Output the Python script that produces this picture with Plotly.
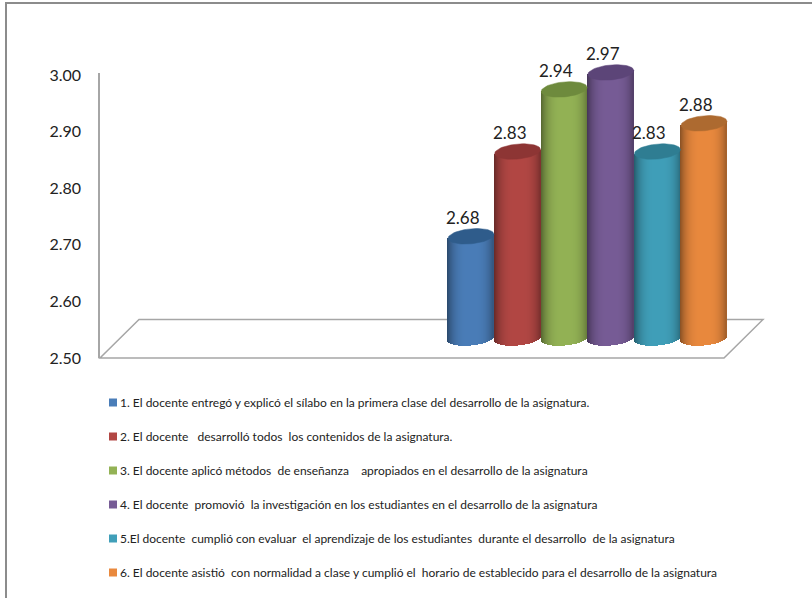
import math
import plotly.graph_objects as go

W, H = 812, 598

# ---- data ----
series_names = [
    "1. El docente entregó y explicó el sílabo en la primera clase del desarrollo de la asignatura.",
    "2. El docente   desarrolló todos  los contenidos de la asignatura.",
    "3. El docente aplicó métodos  de enseñanza    apropiados en el desarrollo de la asignatura",
    "4. El docente  promovió  la investigación en los estudiantes en el desarrollo de la asignatura",
    "5.El docente  cumplió con evaluar  el aprendizaje de los estudiantes  durante el desarrollo  de la asignatura",
    "6. El docente asistió  con normalidad a clase y cumplió el  horario de establecido para el desarrollo de la asignatura",
]
series_values = [2.68, 2.83, 2.94, 2.97, 2.83, 2.88]
y_ticks = [2.5, 2.6, 2.7, 2.8, 2.9, 3.0]
y_tick_labels = ["2.50", "2.60", "2.70", "2.80", "2.90", "3.00"]
side_colors = ["#4A7DB8", "#B24744", "#93B255", "#775C96", "#409FB9", "#E9893E"]
top_colors = ["#2F5C8B", "#8D3534", "#6E8A3D", "#5C4578", "#2F7D92", "#AD6A30"]
value_base = 2.5

# ---- layout constants (pixels) ----
FONT = "Lato"
AXIS_X, AXIS_TOP, AXIS_BOTTOM = 100, 73, 358
TICK_3_PX = 75
FLOOR_FRONT = 357
PX_PER_UNIT = 565.0
DEPTH_LIFT = 19          # cylinders stand this many px above the front of the floor
PANEL_TOP = 40
X0_PX, DX_PX = 471.0, 46.6
RIGHT_PX = 764
BAR_W = 46.0
ELL_B, ELL_TILT = 7.5, 2.0


def fx(px):
    return px / W


def fy(py):
    return 1 - py / H


def shade(hex_color, f):
    r, g, b = (int(hex_color[i:i + 2], 16) for i in (1, 3, 5))
    return "rgb(%d,%d,%d)" % (min(255, r * f), min(255, g * f), min(255, b * f))


def body_factor(t):
    return 1.0 - 0.36 * abs(t - 0.05) ** 3.2


x_range = [(AXIS_X - X0_PX) / DX_PX, (RIGHT_PX - X0_PX) / DX_PX]
y2_range = [value_base - DEPTH_LIFT / PX_PER_UNIT,
            value_base + (FLOOR_FRONT - DEPTH_LIFT - PANEL_TOP) / PX_PER_UNIT]
y_unit_px = (AXIS_BOTTOM - TICK_3_PX) / 0.5
y_range = [value_base, value_base + (AXIS_BOTTOM - AXIS_TOP) / y_unit_px]

fig = go.Figure()
# keeps the visible value axis alive
fig.add_trace(go.Scatter(x=[0], y=[value_base], mode="markers", marker=dict(opacity=0),
                         xaxis="x", yaxis="y", showlegend=False, hoverinfo="skip"))
n_slices = 46
half = BAR_W / 2 / DX_PX
for i, (name, v, side, top) in enumerate(zip(series_names, series_values, side_colors, top_colors)):
    ts = [-1 + (2 * k + 1) / n_slices for k in range(n_slices)]
    xs = [i + t * half for t in ts]
    bases = [value_base + (ELL_TILT * t - ELL_B * math.sqrt(1 - t * t)) / PX_PER_UNIT for t in ts]
    heights = [v + ELL_TILT * t / PX_PER_UNIT - b for t, b in zip(ts, bases)]
    fig.add_trace(go.Bar(
        x=xs, y=heights, base=bases, width=[2 * half / n_slices * 1.25] * n_slices,
        marker=dict(color=[shade(side, body_factor(t)) for t in ts], line_width=0),
        xaxis="x", yaxis="y2", showlegend=False, hoverinfo="skip",
    ))
    angs = [2 * math.pi * k / 60 for k in range(61)]
    fig.add_trace(go.Scatter(
        x=[i + half * math.cos(a) for a in angs],
        y=[v + (ELL_TILT * math.cos(a) + ELL_B * math.sin(a)) / PX_PER_UNIT for a in angs],
        mode="lines", fill="toself", fillcolor=top, line=dict(color=top, width=0.5),
        xaxis="x", yaxis="y2", showlegend=False, hoverinfo="skip",
    ))
    fig.add_trace(go.Scatter(
        x=[None], y=[None], mode="markers", name=name.replace("  ", "\u00a0\u00a0"),
        legendgroup=str(i), showlegend=True,
        marker=dict(symbol="square", size=8, color=side),
        xaxis="x", yaxis="y2",
    ))

annotations = [
    dict(x=i, y=v, xref="x", yref="y2", text="%.2f" % v, showarrow=False,
         xshift=-8, yshift=19, font=dict(family=FONT, size=17, color="#222222"))
    for i, v in enumerate(series_values)
]

floor = "M %f %f L %f %f L %f %f L %f %f Z" % (
    fx(AXIS_X), fy(358), fx(724), fy(358), fx(763), fy(319.5), fx(139), fy(319.5))
line_color = "#A6A6A6"
shapes = [
    dict(type="path", path=floor, xref="paper", yref="paper", layer="below",
         line=dict(color=line_color, width=1.5)),
    dict(type="path", xref="paper", yref="paper", layer="below",
         path="M %f %f L %f %f L %f %f" % (fx(6), fy(600), fx(6), fy(3), fx(814), fy(3)),
         line=dict(color="#8C8C8C", width=2)),
]

fig.update_layout(
    width=W, height=H, margin=dict(l=0, r=0, t=0, b=0, autoexpand=False),
    paper_bgcolor="white", plot_bgcolor="rgba(0,0,0,0)",
    font=dict(family=FONT, color="#222222"),
    barmode="overlay", bargap=0,
    xaxis=dict(domain=[fx(AXIS_X), fx(RIGHT_PX)], range=x_range, visible=False, anchor="y"),
    yaxis=dict(domain=[fy(AXIS_BOTTOM), fy(AXIS_TOP)], range=y_range, tickvals=y_ticks,
               ticktext=y_tick_labels, showgrid=False, zeroline=False, showline=True,
               linecolor=line_color, linewidth=1.5, ticks="", ticklabelstandoff=14,
               tickfont=dict(family=FONT, size=16, color="#222222"), anchor="x"),
    yaxis2=dict(domain=[fy(FLOOR_FRONT), fy(PANEL_TOP)], range=y2_range, visible=False, anchor="x"),
    showlegend=True,
    legend=dict(x=fx(80), y=fy(388), xanchor="left", yanchor="top", bgcolor="rgba(0,0,0,0)",
                tracegroupgap=15, font=dict(family=FONT, size=12, color="#222222"),
                itemclick=False, itemdoubleclick=False),
    annotations=annotations, shapes=shapes,
)

post = """
document.body.style.margin='0';document.body.style.overflow='hidden';
var gd=document.getElementById('{plot_id}');
function shiftSwatches(){var els=gd.getElementsByClassName('legendsymbols');for(var i=0;i<els.length;i++){els[i].setAttribute('transform','translate(13,0)');}}
shiftSwatches();setTimeout(shiftSwatches,50);
if(gd.on){gd.on('plotly_afterplot',shiftSwatches);}
"""
fig.write_html("out.html", post_script=post, config={"displayModeBar": False})
